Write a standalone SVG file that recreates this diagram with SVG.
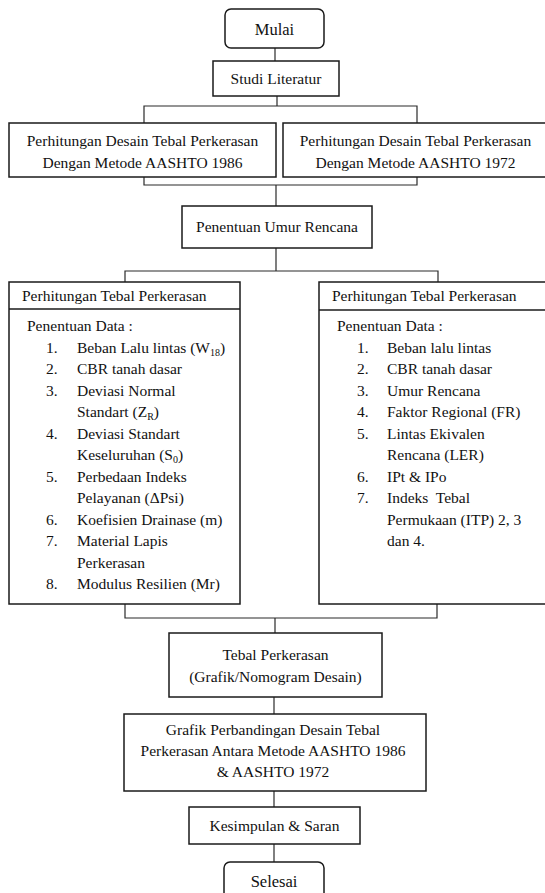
<svg xmlns="http://www.w3.org/2000/svg" width="545" height="893" viewBox="0 0 545 893">
<style>
  .box { fill: #ffffff; stroke: #1a1a1a; stroke-width: 1.5; }
  .conn { fill: none; stroke: #2a2a2a; stroke-width: 1.2; }
  text { font-family: 'Liberation Serif', 'Times New Roman', serif; font-size: 15.5px; fill: #111111; }
  .c { text-anchor: middle; }
  .big { font-size: 16.5px; }
  .sub { font-size: 10px; }
</style>
<rect width="545" height="893" fill="#ffffff"/>
<g id="connectors">
  <path class="conn" d="M275,48 V61"/>
  <path class="conn" d="M277,96 V106 M144,123 V106 H417 V123"/>
  <path class="conn" d="M144,177 V185 H417 V177 M276,185 V206"/>
  <path class="conn" d="M276,248 V271 M125,282 V271 H438 V282"/>
  <path class="conn" d="M125,604 V618 H437 V604 M275,618 V633"/>
  <path class="conn" d="M274,697 V714"/>
  <path class="conn" d="M274,791 V807"/>
  <path class="conn" d="M274,844 V862"/>
</g>
<g id="mulai">
  <rect class="box" x="225" y="9" width="99" height="39" rx="6"/>
  <text class="c big" x="274.5" y="35">Mulai</text>
</g>
<g id="studi-literatur">
  <rect class="box" x="213" y="61" width="126" height="35"/>
  <text class="c" x="276" y="83.5">Studi Literatur</text>
</g>
<g id="desain-1986">
  <rect class="box" x="9" y="123" width="267" height="54"/>
  <text class="c" x="142.5" y="146">Perhitungan Desain Tebal Perkerasan</text>
  <text class="c" x="142.5" y="168">Dengan Metode AASHTO 1986</text>
</g>
<g id="desain-1972">
  <rect class="box" x="283" y="123" width="265" height="54"/>
  <text class="c" x="415.5" y="146">Perhitungan Desain Tebal Perkerasan</text>
  <text class="c" x="415.5" y="168">Dengan Metode AASHTO 1972</text>
</g>
<g id="umur-rencana">
  <rect class="box" x="182" y="206" width="190" height="42"/>
  <text class="c" x="277" y="232">Penentuan Umur Rencana</text>
</g>
<g id="tebal-1986">
  <rect class="box" x="9" y="282" width="231" height="322"/>
  <line class="box" x1="9" y1="309" x2="240" y2="309"/>
  <text x="22" y="301">Perhitungan Tebal Perkerasan</text>
  <text x="27" y="331">Penentuan Data :</text>
  <text x="46" y="352.5">1.</text><text x="77" y="352.5">Beban Lalu lintas (W<tspan class="sub" dy="3">18</tspan><tspan dy="-3">)</tspan></text>
  <text x="46" y="374">2.</text><text x="77" y="374">CBR tanah dasar</text>
  <text x="46" y="395.5">3.</text><text x="77" y="395.5">Deviasi Normal</text>
  <text x="77" y="417">Standart (Z<tspan class="sub" dy="3">R</tspan><tspan dy="-3">)</tspan></text>
  <text x="46" y="438.5">4.</text><text x="77" y="438.5">Deviasi Standart</text>
  <text x="77" y="460">Keseluruhan (S<tspan class="sub" dy="3">0</tspan><tspan dy="-3">)</tspan></text>
  <text x="46" y="481.5">5.</text><text x="77" y="481.5">Perbedaan Indeks</text>
  <text x="77" y="503">Pelayanan (ΔPsi)</text>
  <text x="46" y="524.5">6.</text><text x="77" y="524.5">Koefisien Drainase (m)</text>
  <text x="46" y="546">7.</text><text x="77" y="546">Material Lapis</text>
  <text x="77" y="567.5">Perkerasan</text>
  <text x="46" y="589">8.</text><text x="77" y="589">Modulus Resilien (Mr)</text>
</g>
<g id="tebal-1972">
  <rect class="box" x="319" y="282" width="238" height="322"/>
  <line class="box" x1="319" y1="310" x2="557" y2="310"/>
  <text x="332" y="301">Perhitungan Tebal Perkerasan</text>
  <text x="337" y="331">Penentuan Data :</text>
  <text x="357" y="352.5">1.</text><text x="387" y="352.5">Beban lalu lintas</text>
  <text x="357" y="374">2.</text><text x="387" y="374">CBR tanah dasar</text>
  <text x="357" y="395.5">3.</text><text x="387" y="395.5">Umur Rencana</text>
  <text x="357" y="417">4.</text><text x="387" y="417">Faktor Regional (FR)</text>
  <text x="357" y="438.5">5.</text><text x="387" y="438.5">Lintas Ekivalen</text>
  <text x="387" y="460">Rencana (LER)</text>
  <text x="357" y="481.5">6.</text><text x="387" y="481.5">IPt &amp; IPo</text>
  <text x="357" y="503">7.</text><text x="387" y="503">Indeks&#160; Tebal</text>
  <text x="387" y="524.5">Permukaan (ITP) 2, 3</text>
  <text x="387" y="546">dan 4.</text>
</g>
<g id="tebal-perkerasan">
  <rect class="box" x="169" y="633" width="213" height="64"/>
  <text class="c" x="275.5" y="660">Tebal Perkerasan</text>
  <text class="c" x="275.5" y="682">(Grafik/Nomogram Desain)</text>
</g>
<g id="grafik-perbandingan">
  <rect class="box" x="124" y="714" width="302" height="77"/>
  <text class="c" x="273" y="735">Grafik Perbandingan Desain Tebal</text>
  <text class="c" x="273" y="756">Perkerasan Antara Metode AASHTO 1986</text>
  <text class="c" x="273" y="777">&amp; AASHTO 1972</text>
</g>
<g id="kesimpulan">
  <rect class="box" x="189" y="807" width="171" height="37"/>
  <text class="c" x="274.5" y="831">Kesimpulan &amp; Saran</text>
</g>
<g id="selesai">
  <rect class="box" x="224" y="862" width="100" height="40" rx="6"/>
  <text class="c big" x="274" y="887">Selesai</text>
</g>
</svg>
